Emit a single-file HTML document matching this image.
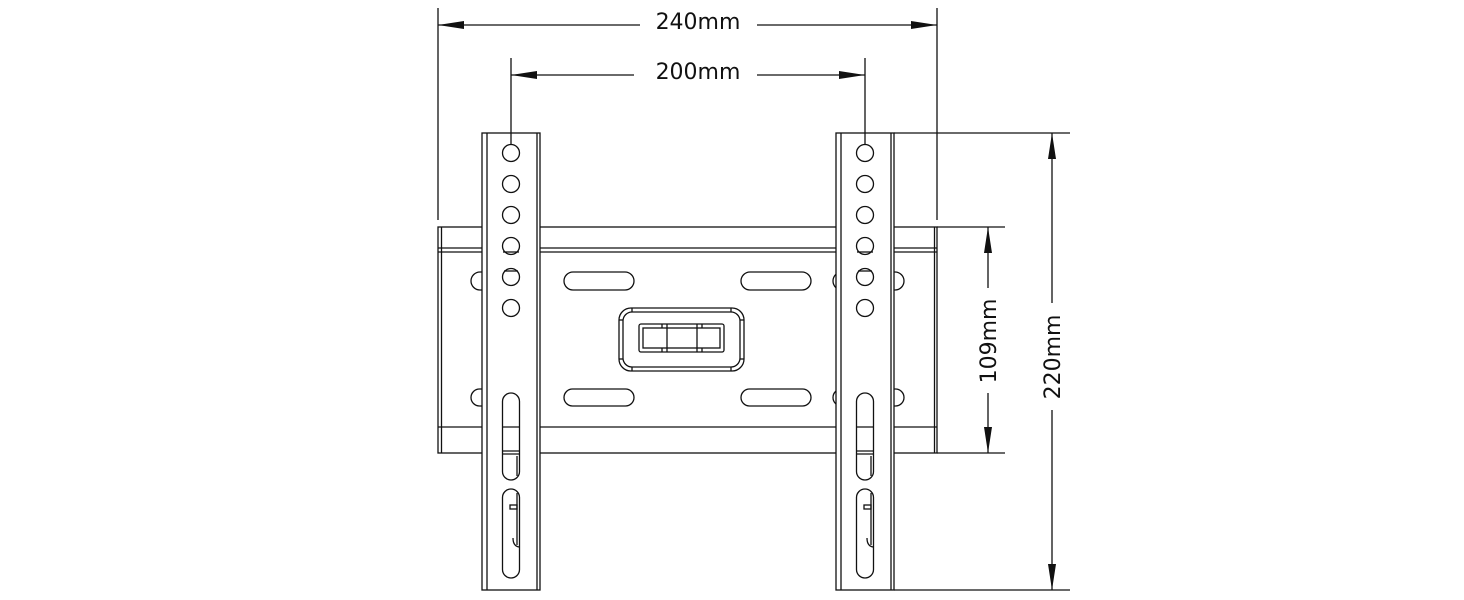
<!DOCTYPE html>
<html><head><meta charset="utf-8"><style>
html,body{margin:0;padding:0;background:#fff;}
svg{display:block;}
text{font-family:"DejaVu Sans","Liberation Sans",sans-serif;font-size:22px;fill:#111;}
</style></head><body>
<svg width="1464" height="600" viewBox="0 0 1464 600" xmlns="http://www.w3.org/2000/svg">
<g stroke="#111" stroke-width="1.3" fill="none">
<!-- plate -->
<rect x="438" y="227" width="499" height="226" fill="#fff"/>
<line x1="441.5" y1="227" x2="441.5" y2="453"/>
<line x1="934.5" y1="227" x2="934.5" y2="453"/>
<line x1="438" y1="248" x2="937" y2="248"/>
<line x1="438" y1="252" x2="937" y2="252"/>
<line x1="438" y1="427" x2="937" y2="427"/>
<!-- oval slots -->
<rect x="564" y="272" width="70" height="18" rx="9"/>
<rect x="564" y="389" width="70" height="17" rx="8.5"/>
<rect x="741" y="272" width="70" height="18" rx="9"/>
<rect x="741" y="389" width="70" height="17" rx="8.5"/>
<!-- half ovals -->
<rect x="471" y="272" width="30" height="18" rx="9"/>
<rect x="471" y="389" width="30" height="17" rx="8.5"/>
<rect x="874" y="272" width="30" height="18" rx="9"/>
<rect x="874" y="389" width="30" height="17" rx="8.5"/>
<rect x="833" y="272" width="30" height="18" rx="9"/>
<rect x="833" y="389" width="30" height="17" rx="8.5"/>
<!-- center boss -->
<rect x="619" y="308" width="125" height="63" rx="12"/>
<rect x="623" y="312" width="117" height="55" rx="9"/>
<line x1="632" y1="308" x2="632" y2="312"/>
<line x1="632" y1="367" x2="632" y2="371"/>
<line x1="731" y1="308" x2="731" y2="312"/>
<line x1="731" y1="367" x2="731" y2="371"/>
<line x1="619" y1="320" x2="623" y2="320"/>
<line x1="619" y1="359" x2="623" y2="359"/>
<line x1="740" y1="320" x2="744" y2="320"/>
<line x1="740" y1="359" x2="744" y2="359"/>
<rect x="639" y="324" width="85" height="28" rx="2"/>
<rect x="643" y="328" width="77" height="20"/>
<line x1="667" y1="324" x2="667" y2="352"/>
<line x1="697" y1="324" x2="697" y2="352"/>
<line x1="662" y1="324" x2="662" y2="328"/>
<line x1="662" y1="348" x2="662" y2="352"/>
<line x1="702" y1="324" x2="702" y2="328"/>
<line x1="702" y1="348" x2="702" y2="352"/>
<!-- brackets -->
<g id="br">
<rect x="482" y="133" width="58" height="457" fill="#fff"/>
<line x1="487" y1="133" x2="487" y2="590"/>
<line x1="537" y1="133" x2="537" y2="590"/>
<circle cx="511" cy="153" r="8.5"/>
<circle cx="511" cy="184" r="8.5"/>
<circle cx="511" cy="215" r="8.5"/>
<circle cx="511" cy="246" r="8.5"/>
<line x1="503" y1="252" x2="519" y2="252"/>
<circle cx="511" cy="277" r="8.5"/>
<line x1="504" y1="271" x2="518" y2="271"/>
<circle cx="511" cy="308" r="8.5"/>
<rect x="502.5" y="393" width="17" height="87" rx="8.5"/>
<line x1="502.5" y1="427" x2="519.5" y2="427"/>
<line x1="502.5" y1="451" x2="519.5" y2="451"/>
<line x1="502.5" y1="454" x2="519.5" y2="454"/>
<line x1="517" y1="456" x2="517" y2="476"/>
<rect x="502.5" y="489" width="17" height="89" rx="8.5"/>
<line x1="517" y1="493" x2="517" y2="545"/>
<rect x="510" y="505" width="7" height="4"/>
<path d="M513 538 Q513 546 519 547"/>
</g>
<use href="#br" transform="translate(354,0)"/>
<!-- dimension lines -->
<line x1="438" y1="8" x2="438" y2="220"/>
<line x1="937" y1="8" x2="937" y2="220"/>
<line x1="438" y1="25" x2="640" y2="25"/>
<line x1="757" y1="25" x2="937" y2="25"/>
<line x1="511" y1="58" x2="511" y2="145"/>
<line x1="865" y1="58" x2="865" y2="145"/>
<line x1="511" y1="75" x2="634" y2="75"/>
<line x1="757" y1="75" x2="865" y2="75"/>
<line x1="894" y1="133" x2="1070" y2="133"/>
<line x1="894" y1="590" x2="1070" y2="590"/>
<line x1="937" y1="227" x2="1005" y2="227"/>
<line x1="937" y1="453" x2="1005" y2="453"/>
<line x1="988" y1="227" x2="988" y2="288"/>
<line x1="988" y1="393" x2="988" y2="453"/>
<line x1="1052" y1="133" x2="1052" y2="303"/>
<line x1="1052" y1="410" x2="1052" y2="590"/>
</g>
<g fill="#111">
<polygon points="438,25 464,21 464,29"/>
<polygon points="937,25 911,21 911,29"/>
<polygon points="511,75 537,71 537,79"/>
<polygon points="865,75 839,71 839,79"/>
<polygon points="988,227 984,253 992,253"/>
<polygon points="988,453 984,427 992,427"/>
<polygon points="1052,133 1048,159 1056,159"/>
<polygon points="1052,590 1048,564 1056,564"/>
</g>
<text x="698" y="29" text-anchor="middle">240mm</text>
<text x="698" y="79" text-anchor="middle">200mm</text>
<text transform="translate(996,341) rotate(-90)" text-anchor="middle">109mm</text>
<text transform="translate(1060,357) rotate(-90)" text-anchor="middle">220mm</text>
</svg>
</body></html>
